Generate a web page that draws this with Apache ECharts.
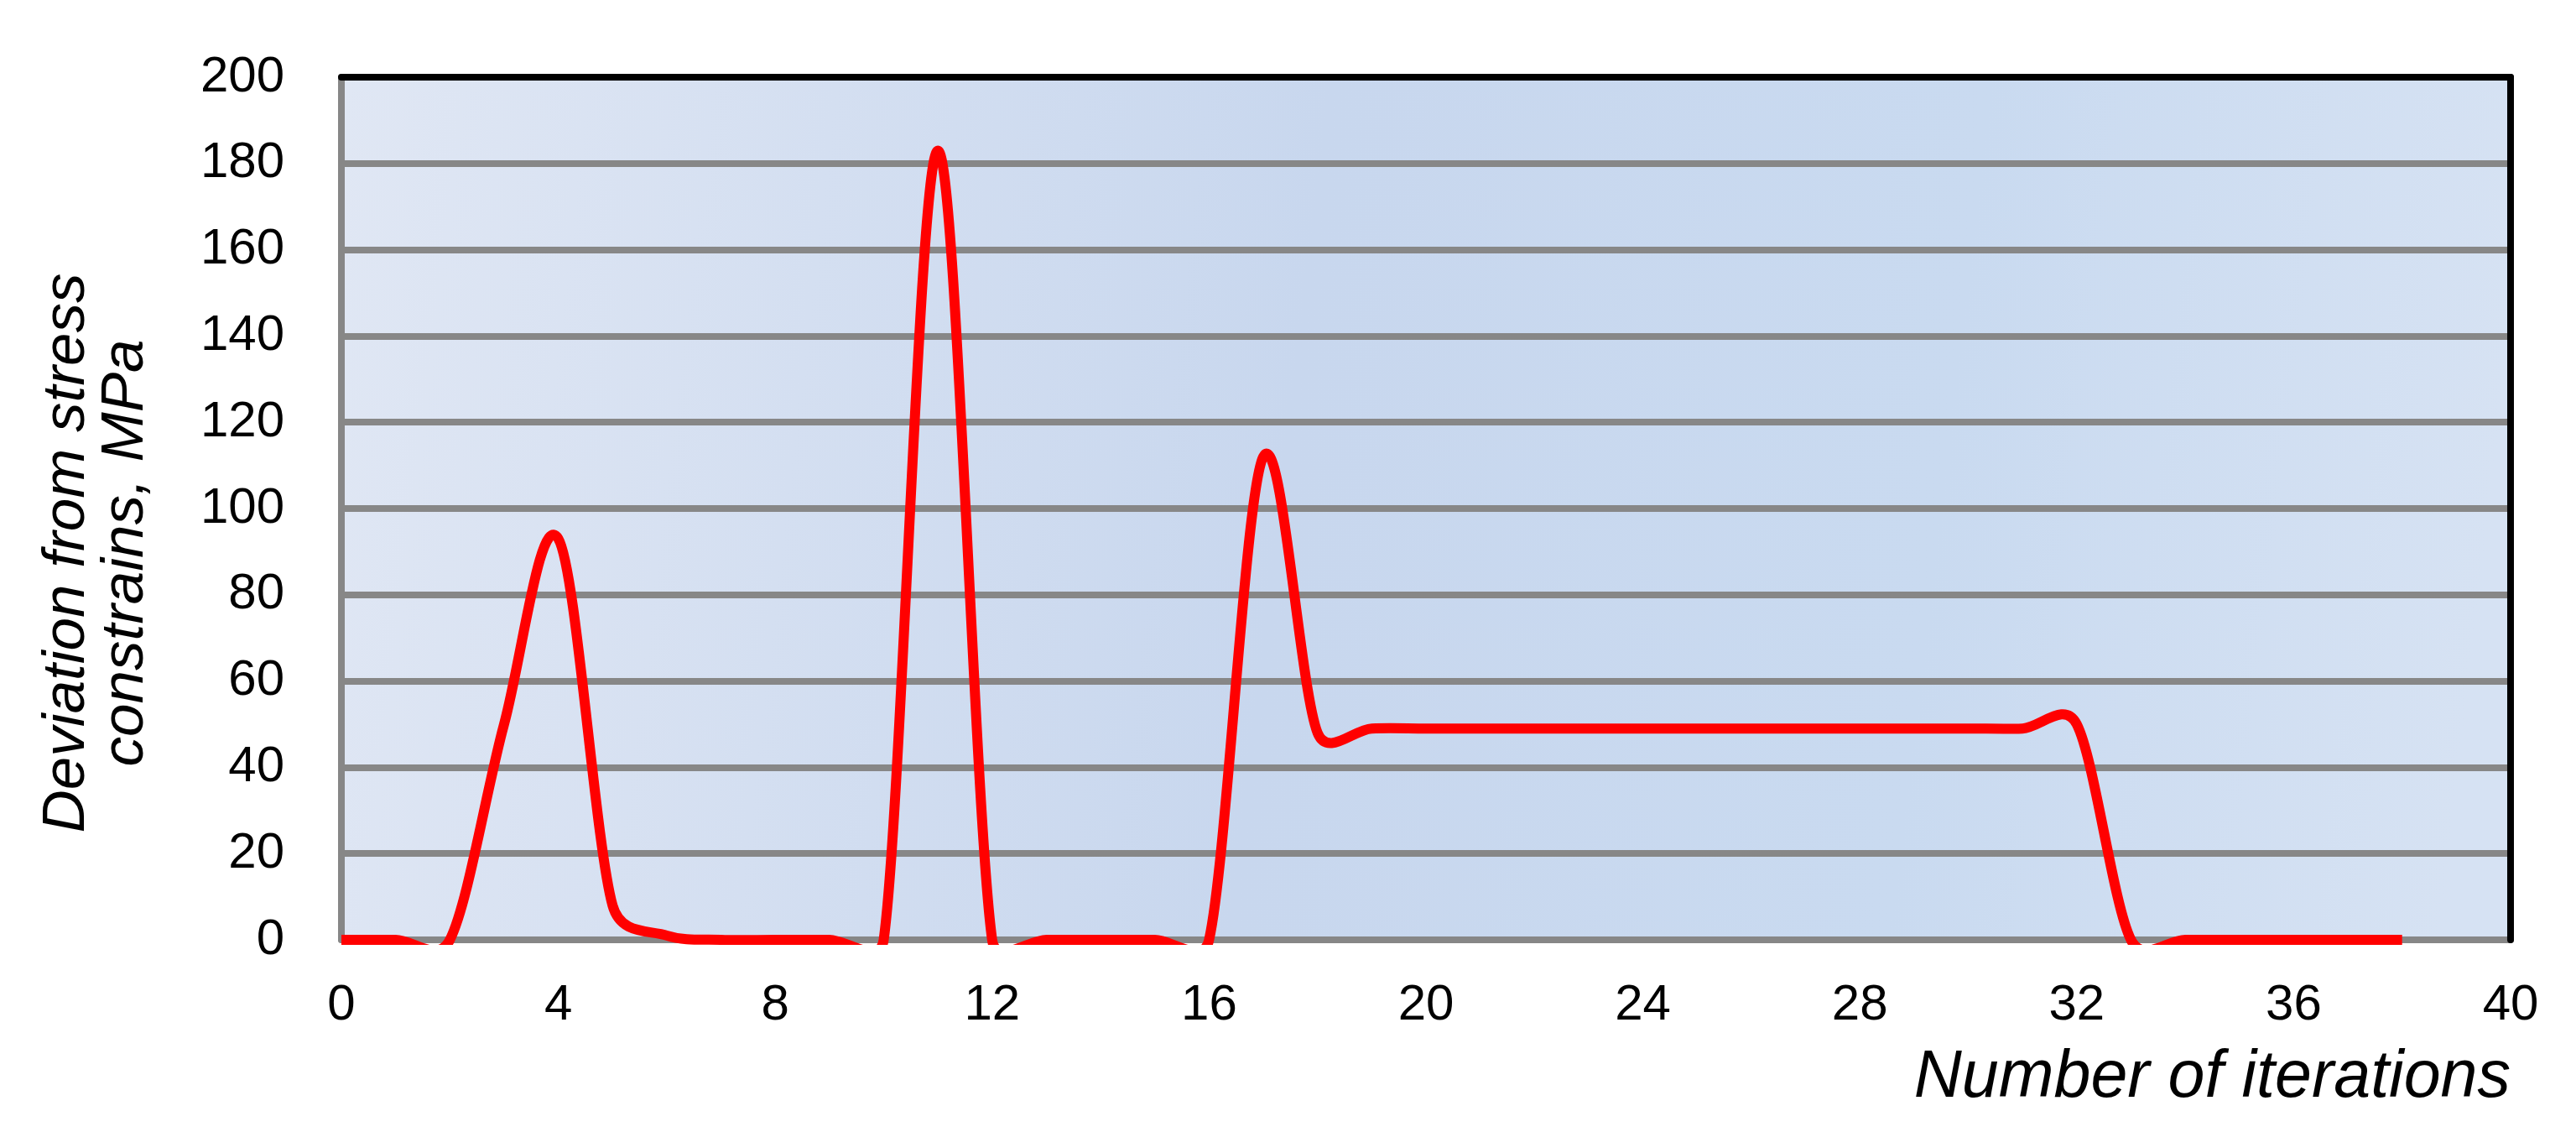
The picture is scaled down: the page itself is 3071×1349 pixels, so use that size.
<!DOCTYPE html>
<html>
<head>
<meta charset="utf-8">
<script src="https://cdn.jsdelivr.net/npm/echarts@6/dist/echarts.min.js"></script>
<style>
  html, body { margin: 0; padding: 0; background: #fff; }
  #chart { width: 3071px; height: 1349px; }
</style>
</head>
<body>
<div id="chart"></div>
<script>
const iterations = [0, 1, 2, 3, 4, 5, 6, 7, 8, 9, 10, 11, 12, 13, 14, 15, 16, 17, 18, 19,
  20, 21, 22, 23, 24, 25, 26, 27, 28, 29, 30, 31, 32, 33, 34, 35, 36, 37, 38]
const deviation = [0, 0, 0, 50, 93, 8, 1, 0, 0, 0, 0, 183, 0, 0, 0, 0, 0, 112, 48, 49,
  49, 49, 49, 49, 49, 49, 49, 49, 49, 49, 49, 49, 50, 0, 0, 0, 0, 0, 0]
const xTicks = { min: 0, max: 40, interval: 4 }
const yTicks = { min: 0, max: 200, interval: 20 }

const font = 'Liberation Sans'
const grey = '#878787'
const lineWidth = 12

const dist = (a, b) => Math.hypot(b[0] - a[0], b[1] - a[1])

// spreadsheet-style smoothed line: bezier segments through the data points,
// tangent from the neighbours (1/6), control arm capped at half the segment
function renderSmoothLine(params, api) {
  if (params.dataIndex !== 0) return null
  const pts = iterations.map((x, i) => api.coord([x, deviation[i]]))
  const n = pts.length
  let d = `M${pts[0][0]},${pts[0][1]}`
  for (let i = 0; i < n - 1; i++) {
    const p0 = pts[Math.max(i - 1, 0)]
    const p1 = pts[i]
    const p2 = pts[i + 1]
    const p3 = pts[Math.min(i + 2, n - 1)]
    const seg = dist(p1, p2)
    const d02 = dist(p0, p2)
    const d13 = dist(p1, p3)
    let f1 = 1 / 6
    let f2 = 1 / 6
    if (d02 * f1 > seg / 2) f1 = seg / (2 * d02)
    if (d13 * f2 > seg / 2) f2 = seg / (2 * d13)
    const c1x = p1[0] + (p2[0] - p0[0]) * f1
    const c1y = p1[1] + (p2[1] - p0[1]) * f1
    const c2x = p2[0] - (p3[0] - p1[0]) * f2
    const c2y = p2[1] - (p3[1] - p1[1]) * f2
    d += ` C${c1x},${c1y} ${c2x},${c2y} ${p2[0]},${p2[1]}`
  }
  return {
    type: 'path',
    shape: { pathData: d },
    style: { fill: 'none', stroke: '#ff0000', lineWidth: lineWidth, lineJoin: 'round' }
  }
}

const chart = echarts.init(document.getElementById('chart'))
chart.setOption({
  animation: false,
  grid: {
    left: 407, right: 78, top: 92, bottom: 229,
    show: true,
    borderWidth: 0,
    backgroundColor: new echarts.graphic.LinearGradient(0, 0, 1, 0.3, [
      { offset: 0, color: '#e0e7f4' },
      { offset: 0.45, color: '#c8d7ee' },
      { offset: 0.75, color: '#c9daf0' },
      { offset: 1, color: '#d6e2f3' }
    ])
  },
  xAxis: [
    {
      type: 'value',
      ...xTicks,
      name: 'Number of iterations',
      nameLocation: 'end',
      nameGap: 0,
      nameTextStyle: {
        fontFamily: font, fontStyle: 'italic', fontSize: 79, color: '#000',
        align: 'right', verticalAlign: 'top', padding: [126, 0, 0, 0]
      },
      axisLine: { lineStyle: { color: grey, width: 8 } },
      axisTick: { show: false },
      splitLine: { show: false },
      axisLabel: { fontFamily: font, fontSize: 60, color: '#000', margin: 48 }
    },
    {
      type: 'value',
      ...xTicks,
      position: 'top',
      z: 3,
      axisLine: { onZero: false, lineStyle: { color: '#000', width: 8 } },
      axisTick: { show: false },
      axisLabel: { show: false },
      splitLine: { show: false }
    }
  ],
  yAxis: [
    {
      type: 'value',
      ...yTicks,
      name: 'Deviation from stress\nconstrains, MPa',
      nameLocation: 'middle',
      nameGap: 222,
      nameRotate: 90,
      nameTextStyle: {
        fontFamily: font, fontStyle: 'italic', fontSize: 71, lineHeight: 70, color: '#000',
        padding: [0, 106, 0, 0]
      },
      axisLine: { show: true, onZero: false, lineStyle: { color: grey, width: 8 } },
      axisTick: { show: false },
      splitLine: { lineStyle: { color: grey, width: 8 } },
      axisLabel: { fontFamily: font, fontSize: 60, color: '#000', margin: 68 }
    },
    {
      type: 'value',
      ...yTicks,
      position: 'right',
      z: 3,
      axisLine: { show: true, onZero: false, lineStyle: { color: '#000', width: 8 } },
      axisTick: { show: false },
      axisLabel: { show: false },
      splitLine: { show: false }
    }
  ],
  series: [
    {
      type: 'custom',
      data: iterations.map((x, i) => [x, deviation[i]]),
      encode: { x: 0, y: 1 },
      clip: true,
      lineStyle: { width: lineWidth },
      renderItem: renderSmoothLine,
      z: 2
    }
  ]
})
</script>
</body>
</html>
